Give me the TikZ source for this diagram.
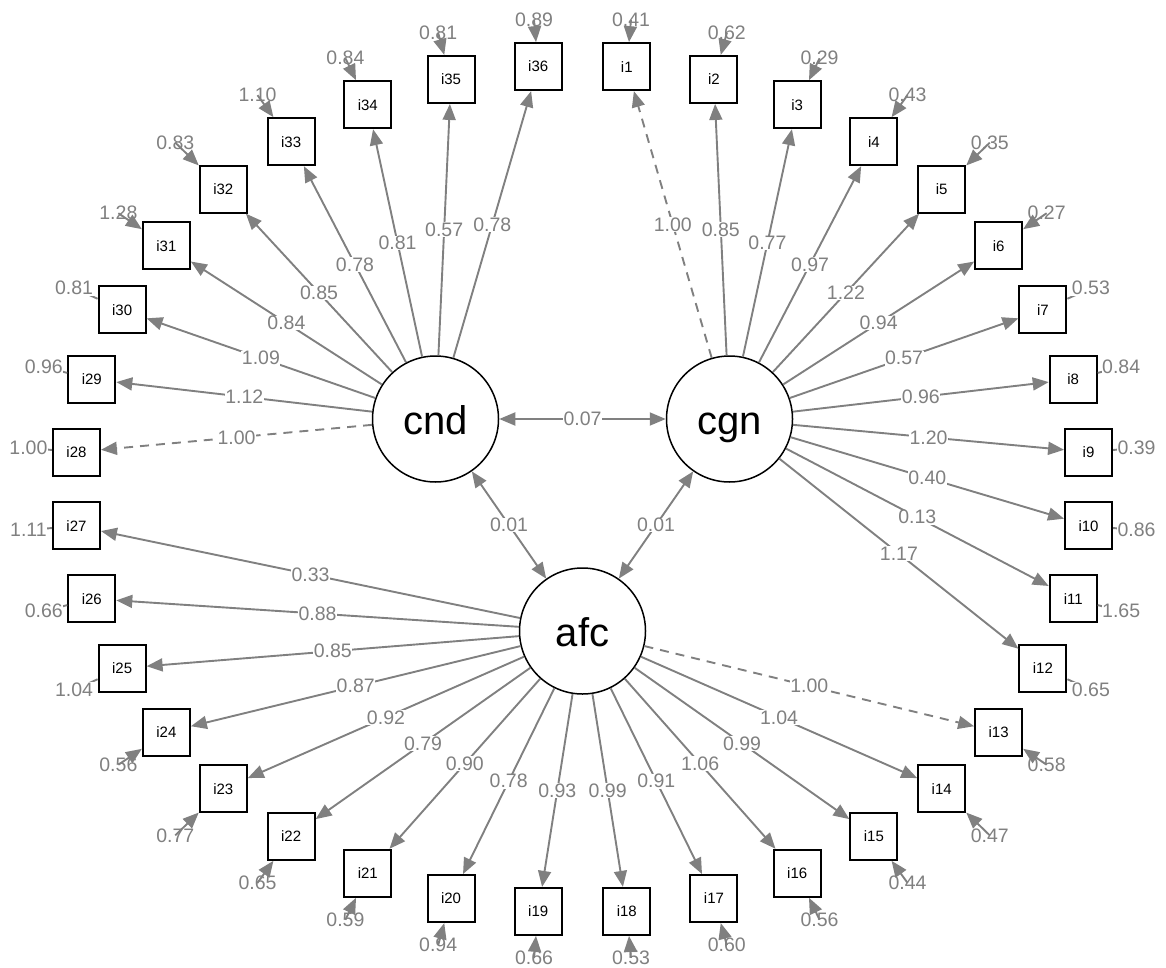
\documentclass[tikz,border=0pt]{standalone}
\usepackage{fontspec}
\setmainfont{Liberation Sans}
\usetikzlibrary{arrows.meta}
\tikzset{
    latent/.style={circle,draw=black,fill=white,line width=1.5pt,minimum size=126pt,inner sep=0pt,text height=30pt,text depth=0pt,font=\fontsize{40}{44}\selectfont},
    manifest/.style={rectangle,draw=black,fill=white,line width=2pt,minimum size=47pt,inner sep=0pt,font=\fontsize{15}{17}\selectfont},
    load/.style={draw=gray,line width=1.9pt,-{Triangle[length=16pt,width=13pt]}},
    fixed/.style={load,dash pattern=on 9pt off 7pt},
    cov/.style={draw=gray,line width=1.9pt,{Triangle[length=16pt,width=13pt]}-{Triangle[length=16pt,width=13pt]}},
    est/.style={fill=white,inner sep=0.5pt,text=gray,font=\fontsize{19.5}{21}\selectfont},
    resid/.style={text=gray,inner sep=0.5pt,font=\fontsize{19.5}{21}\selectfont},
}

\begin{document}
\begin{tikzpicture}[x=1pt,y=-1pt]
\useasboundingbox (0,0) rectangle (1166,968);
% factors
\node[latent] (cnd) at (435.5,419) {cnd};
\node[latent] (cgn) at (729.5,419) {cgn};
\node[latent] (afc) at (582.5,631) {afc};
% items on an ellipse round the factors
\foreach \k in {1,...,36}{
    \pgfmathsetmacro\ang{95-10*\k}
    \node[manifest] (i\k) at ({582.5+508*cos(\ang)},{489-424*sin(\ang)}) {i\k};
}
% loadings
\draw[fixed] (cgn) -- node[est]{1.00} (i1);
\foreach \k/\val in {2/0.85,3/0.77,4/0.97,5/1.22,6/0.94,7/0.57,8/0.96,9/1.20,10/0.40,11/0.13,12/1.17}
    \draw[load] (cgn) -- node[est]{\val} (i\k);
\draw[fixed] (afc) -- node[est]{1.00} (i13);
\foreach \k/\val in {14/1.04,15/0.99,16/1.06,17/0.91,18/0.99,19/0.93,20/0.78,21/0.90,22/0.79,23/0.92,24/0.87,25/0.85,26/0.88,27/0.33}
    \draw[load] (afc) -- node[est]{\val} (i\k);
\draw[fixed] (cnd) -- node[est]{1.00} (i28);
\foreach \k/\val in {29/1.12,30/1.09,31/0.84,32/0.85,33/0.78,34/0.81,35/0.57,36/0.78}
    \draw[load] (cnd) -- node[est]{\val} (i\k);
% covariances
\draw[cov] (cnd) -- node[est]{0.07} (cgn);
\draw[cov] (cnd) -- node[est]{0.01} (afc);
\draw[cov] (cgn) -- node[est]{0.01} (afc);
% residuals
\foreach \k/\res in {1/0.41,2/0.62,3/0.29,4/0.43,5/0.35,6/0.27,7/0.53,8/0.84,9/0.39,10/0.86,11/1.65,12/0.65,
    13/0.58,14/0.47,15/0.44,16/0.56,17/0.60,18/0.53,19/0.66,20/0.94,21/0.59,22/0.65,23/0.77,24/0.56,
    25/1.04,26/0.66,27/1.11,28/1.00,29/0.96,30/0.81,31/1.28,32/0.83,33/1.10,34/0.84,35/0.81,36/0.89}{
    \pgfmathsetmacro\ang{95-10*\k}
    \pgfmathsetmacro\cang{cos(\ang)}
    \pgfmathsetmacro\sang{sin(\ang)}
    \pgfmathsetmacro\mx{max(abs(\cang),abs(\sang))}
    \coordinate (r\k) at ({582.5+508*\cang+48*\cang/\mx},{489-424*\sang-46.5*\sang/\mx});
    \pgfmathtruncatemacro\side{abs(\sang)<0.5}
    \ifnum\side=1
        \draw[draw=gray,line width=1.9pt] (r\k) -- (i\k);
        \node[resid,fill=white] at (r\k) {\res};
    \else
        \node[resid] at (r\k) {\res};
        \draw[load] (r\k) -- (i\k);
    \fi
}
\end{tikzpicture}
\end{document}
